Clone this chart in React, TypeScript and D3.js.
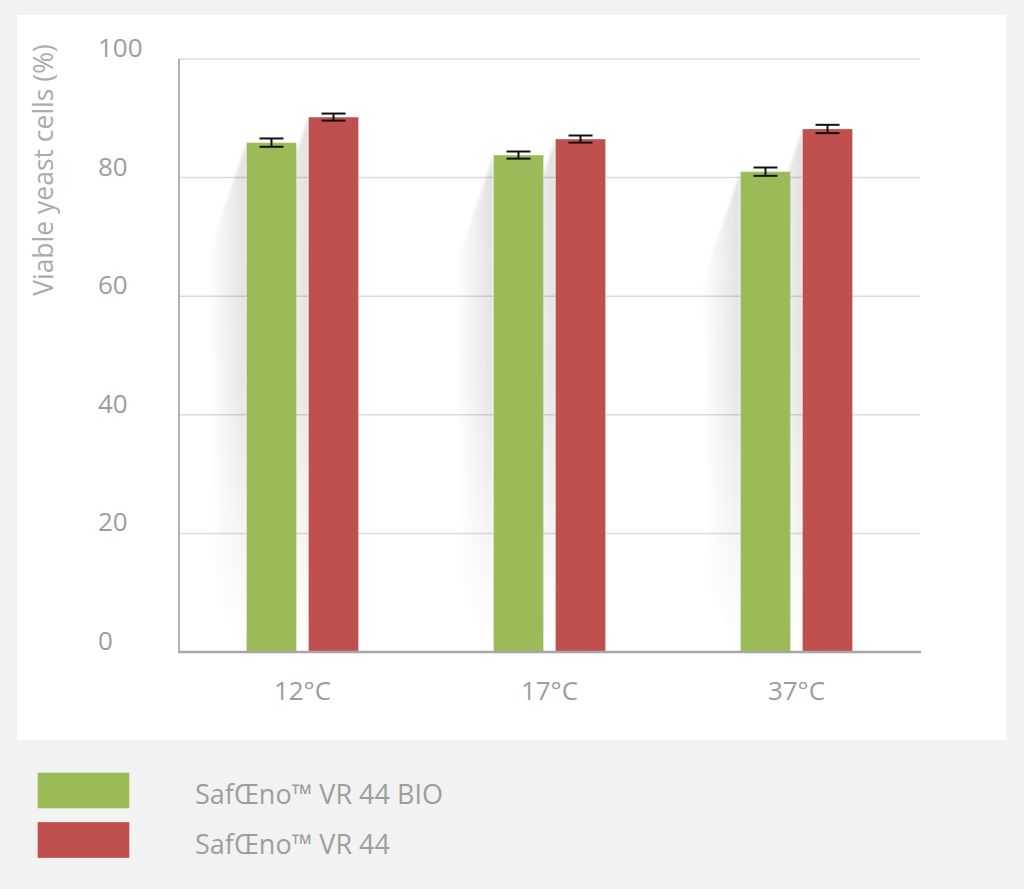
import * as d3 from "d3";
import React from "react";

const categories = ["12°C", "17°C", "37°C"];
const seriesNames = ["SafŒno™ VR 44 BIO", "SafŒno™ VR 44"];
const bioValues = [85.9, 83.8, 81.0];
const vr44Values = [90.2, 86.5, 88.2];
const bioErrors = [0.7, 0.6, 0.7];
const vr44Errors = [0.6, 0.6, 0.7];
const yTicks = [0, 20, 40, 60, 80, 100];
const colors = ["#9bbb59", "#c0504d"];

const W = 1024;
const H = 889;
const font = "'Open Sans', 'DejaVu Sans', sans-serif";
const textColor = "#9d9d9d";

const App = () => {
  const x = d3.scaleBand().domain(categories).range([179, 920]);
  const xSub = d3
    .scaleBand()
    .domain(seriesNames)
    .range([-56, 56])
    .paddingInner(0.194);
  const y = d3.scaleLinear().domain([0, 100]).range([652, 59]);

  const values = [bioValues, vr44Values];
  const errors = [bioErrors, vr44Errors];

  const bars = categories.flatMap((c, i) =>
    seriesNames.map((s, j) => ({
      key: `${c}-${s}`,
      x0: (x(c) as number) + x.bandwidth() / 2 + (xSub(s) as number),
      w: xSub.bandwidth(),
      v: values[j][i],
      e: errors[j][i],
      color: colors[j],
    }))
  );

  const shadowPath = (b: { x0: number; v: number }) => {
    const top = y(b.v);
    const base = y(0);
    return d3.line()([
      [b.x0, top],
      [b.x0 - 38, top + 112],
      [b.x0 - 30, base - 60],
      [b.x0, base],
    ] as [number, number][]) as string;
  };

  return (
    <svg
      width={W}
      height={H}
      style={{ position: "absolute", left: 0, top: 0 }}
      fontFamily={font}
    >
      <defs>
        <linearGradient id="shade" x1="1" x2="0" y1="0" y2="0">
          <stop offset="0" stopColor="#000" stopOpacity="0.13" />
          <stop offset="1" stopColor="#000" stopOpacity="0" />
        </linearGradient>
        <linearGradient id="fadeV" x1="0" x2="0" y1="0" y2="1">
          <stop offset="0" stopColor="#fff" stopOpacity="1" />
          <stop offset="0.55" stopColor="#fff" stopOpacity="0.8" />
          <stop offset="1" stopColor="#fff" stopOpacity="0" />
        </linearGradient>
        <mask id="shadeMask" maskContentUnits="userSpaceOnUse">
          <rect x={0} y={y(100)} width={W} height={y(0) - y(100)} fill="url(#fadeV)" />
        </mask>
        <filter id="soft" x="-20%" y="-20%" width="140%" height="140%">
          <feGaussianBlur stdDeviation="1.5" />
        </filter>
      </defs>

      <rect width={W} height={H} fill="#f2f2f2" />
      <rect x={17} y={15} width={989} height={725} fill="#fff" />

      {/* grid */}
      {yTicks.slice(1).map((t) => (
        <line
          key={t}
          x1={179}
          x2={920}
          y1={y(t)}
          y2={y(t)}
          stroke="#dcdcdc"
          strokeWidth={1.5}
        />
      ))}

      {/* shadows */}
      <g mask="url(#shadeMask)" filter="url(#soft)">
        {bars.map((b) => (
          <path key={b.key} d={shadowPath(b)} fill="url(#shade)" />
        ))}
      </g>

      {/* bars */}
      {bars.map((b) => (
        <rect
          key={b.key}
          x={b.x0}
          y={y(b.v)}
          width={b.w}
          height={y(0) - y(b.v)}
          fill={b.color}
          stroke="#fff"
          strokeOpacity={0.25}
          strokeWidth={1}
        />
      ))}

      {/* error bars */}
      {bars.map((b) => {
        const cx = b.x0 + b.w / 2;
        return (
          <g key={b.key} stroke="#111" strokeWidth={2}>
            <line x1={cx} x2={cx} y1={y(b.v + b.e)} y2={y(b.v - b.e)} />
            <line x1={cx - 12} x2={cx + 12} y1={y(b.v + b.e)} y2={y(b.v + b.e)} />
            <line x1={cx - 12} x2={cx + 12} y1={y(b.v - b.e)} y2={y(b.v - b.e)} />
          </g>
        );
      })}

      {/* axes */}
      <line x1={179} x2={179} y1={y(100)} y2={y(0)} stroke="#999" strokeWidth={1.5} />
      <line x1={178} x2={921} y1={y(0)} y2={y(0)} stroke="#a6a6a6" strokeWidth={2.5} />

      {yTicks.map((t) => (
        <text key={t} x={98} y={y(t) - 2} fontSize={26} fill={textColor}>
          {t}
        </text>
      ))}

      {categories.map((c) => (
        <text
          key={c}
          x={(x(c) as number) + x.bandwidth() / 2}
          y={700}
          fontSize={26}
          fill={textColor}
          textAnchor="middle"
        >
          {c}
        </text>
      ))}

      <text
        transform="translate(53,170) rotate(-90)"
        fontSize={26.5}
        fill="#ababab"
        textAnchor="middle"
      >
        Viable yeast cells (%)
      </text>

      {/* legend */}
      {seriesNames.map((s, j) => (
        <g key={s} transform={`translate(0, ${j * 49.5})`}>
          <rect
            x={37.5}
            y={772.5}
            width={92}
            height={36}
            fill={colors[j]}
            stroke="#fff"
            strokeOpacity={0.3}
          />
          <text x={195} y={804} fontSize={27} fill={textColor}>
            {s}
          </text>
        </g>
      ))}
    </svg>
  );
};

export default App;
